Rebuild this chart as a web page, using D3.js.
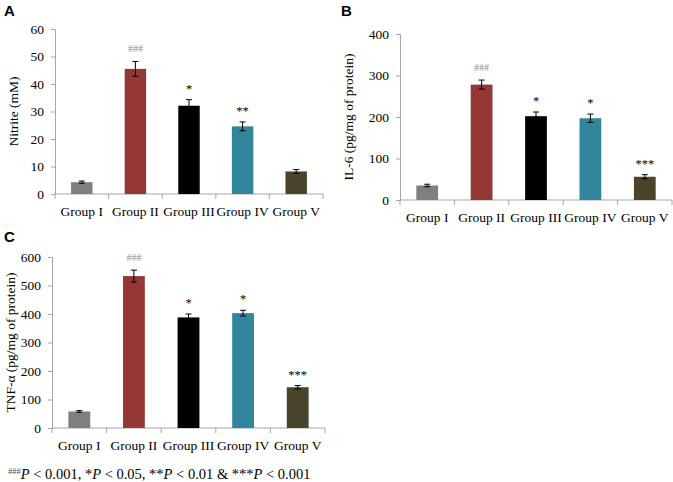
<!DOCTYPE html>
<html><head><meta charset="utf-8">
<script src="https://cdn.jsdelivr.net/npm/d3@7"></script>
<style>body{margin:0;background:#fff}svg{display:block}</style>
</head><body><svg id="c" width="673" height="482"></svg>
<script>
const groups = ["Group I","Group II","Group III","Group IV","Group V"];
const colors = ["#7f7f7f","#953735","#000000","#31859c","#4a452a"];
const nitrite = [4.3, 45.5, 32.1, 24.6, 8.2];
const nitriteErr = [0.4, 2.7, 2.2, 1.6, 0.7];
const nitriteSig = ["", "###", "*", "**", ""];
const nitriteTicks = [0,10,20,30,40,50,60];
const il6 = [35, 278, 202, 197, 56];
const il6Err = [3, 11, 10, 10, 5];
const il6Sig = ["", "###", "*", "*", "***"];
const il6Ticks = [0,100,200,300,400];
const tnf = [58, 533, 388, 403, 143];
const tnfErr = [3, 21, 12, 10, 6];
const tnfSig = ["", "###", "*", "*", "***"];
const tnfTicks = [0,100,200,300,400,500,600];

const svg = d3.select("#c");
const serif = "'Liberation Serif','Times New Roman',serif";

function panel(o){
  const x = d3.scaleBand().domain(groups).range([o.x0,o.x1]).paddingInner(0.6).paddingOuter(0.3);
  const xb = d3.scaleBand().domain(groups).range([o.x0,o.x1]);
  const y = d3.scaleLinear().domain([0,o.max]).range([o.y0,o.yTop]);
  const g = svg.append("g");
  const ya = g.append("g").attr("transform",`translate(${o.x0},0)`)
    .call(d3.axisLeft(y).tickValues(o.ticks).tickSize(4).tickPadding(7).tickFormat(d3.format("d")));
  ya.select(".domain").attr("stroke","#a6a6a6");
  ya.selectAll(".tick line").attr("stroke","#a6a6a6");
  ya.selectAll("text").attr("font-family",serif).attr("font-size",13.5).attr("fill","#000");
  const xa = g.append("g").attr("transform",`translate(0,${o.y0})`)
    .call(d3.axisBottom(xb).tickSize(0).tickPadding(12));
  xa.select(".domain").attr("stroke","#a6a6a6").attr("d",`M${o.x0},0H${o.x1}`);
  xa.selectAll("text").attr("font-family",serif).attr("font-size",13.5).attr("fill","#000");
  const bounds = groups.map(d=>xb(d)).concat([o.x1]);
  g.selectAll(".bt").data(bounds).join("line")
    .attr("x1",d=>d).attr("x2",d=>d).attr("y1",o.y0).attr("y2",o.y0+5).attr("stroke","#a6a6a6");
  g.selectAll(".bar").data(o.vals).join("rect")
    .attr("x",(d,i)=>x(groups[i])).attr("width",x.bandwidth())
    .attr("y",d=>y(d)).attr("height",d=>o.y0-y(d))
    .attr("fill",(d,i)=>colors[i]);
  const eb = g.selectAll(".eb").data(o.vals).join("g");
  eb.append("line").attr("x1",(d,i)=>x(groups[i])+x.bandwidth()/2).attr("x2",(d,i)=>x(groups[i])+x.bandwidth()/2)
    .attr("y1",(d,i)=>y(d-o.err[i])).attr("y2",(d,i)=>y(d+o.err[i])).attr("stroke","#000").attr("stroke-width",1);
  [-1,1].forEach(s=>{
    eb.append("line").attr("x1",(d,i)=>x(groups[i])+x.bandwidth()/2-3).attr("x2",(d,i)=>x(groups[i])+x.bandwidth()/2+3)
      .attr("y1",(d,i)=>y(d+s*o.err[i])).attr("y2",(d,i)=>y(d+s*o.err[i])).attr("stroke","#000").attr("stroke-width",1);
  });
  g.selectAll(".sig").data(o.sig).join("text")
    .attr("x",(d,i)=>x(groups[i])+x.bandwidth()/2)
    .attr("y",(d,i)=>y(o.vals[i]+o.err[i]) - (d==="###"?9:7))
    .attr("text-anchor","middle").attr("font-family",serif)
    .attr("font-size",d=>d==="###"?10:12.5).attr("fill",d=>d==="###"?"#8c8c8c":"#000")
    .text(d=>d);
  g.append("text").attr("transform",`translate(${o.lx},${(o.y0+o.yTop)/2}) rotate(-90)`)
    .attr("text-anchor","middle").attr("dominant-baseline","central")
    .attr("font-family",serif).attr("font-size",13.5).text(o.label);
  svg.append("text").attr("x",o.px).attr("y",o.py).attr("font-family","'Liberation Sans',Arial,sans-serif")
    .attr("font-weight","bold").attr("font-size",15).text(o.letter);
}

panel({x0:55,x1:323,y0:194,yTop:29,max:60,ticks:nitriteTicks,vals:nitrite,err:nitriteErr,sig:nitriteSig,label:"Nitrite (mM)",lx:13,letter:"A",px:4,py:16});
panel({x0:400,x1:672,y0:200,yTop:34,max:400,ticks:il6Ticks,vals:il6,err:il6Err,sig:il6Sig,label:"IL-6 (pg/mg of protein)",lx:348,letter:"B",px:341,py:16});
panel({x0:52,x1:325,y0:428,yTop:257,max:600,ticks:tnfTicks,vals:tnf,err:tnfErr,sig:tnfSig,label:"TNF-α (pg/mg of protein)",lx:10,letter:"C",px:4,py:242});

const fn = svg.append("text").attr("x",8).attr("y",479).attr("font-family",serif).attr("font-size",14.5);
fn.append("tspan").attr("font-size",8.5).attr("dy",-5).attr("fill","#555").text("###");
fn.append("tspan").attr("dy",5).attr("font-style","italic").text("P");
fn.append("tspan").text(" < 0.001, *");
fn.append("tspan").attr("font-style","italic").text("P");
fn.append("tspan").text(" < 0.05, **");
fn.append("tspan").attr("font-style","italic").text("P");
fn.append("tspan").text(" < 0.01 & ***");
fn.append("tspan").attr("font-style","italic").text("P");
fn.append("tspan").text(" < 0.001");
</script></body></html>
